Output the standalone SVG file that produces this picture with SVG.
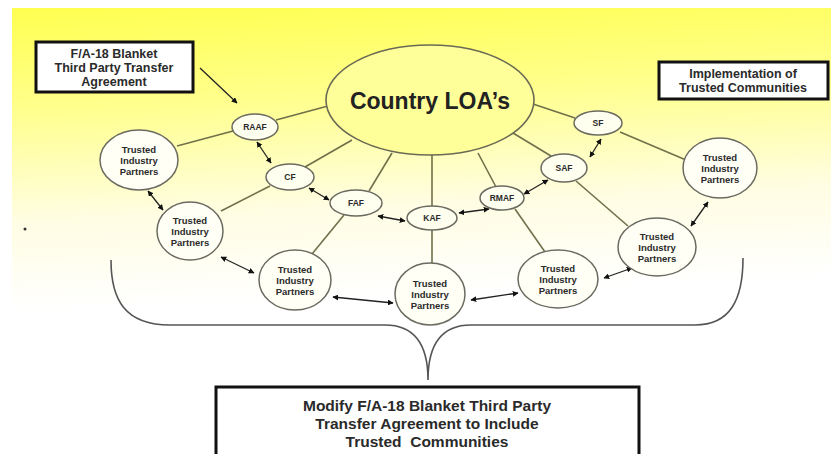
<svg xmlns="http://www.w3.org/2000/svg" width="831" height="454" viewBox="0 0 831 454">
<defs>
<linearGradient id="bg" x1="0" y1="0" x2="0.12" y2="1">
<stop offset="0" stop-color="#ffff50"/>
<stop offset="0.35" stop-color="#ffff90"/>
<stop offset="0.7" stop-color="#fffde2"/>
<stop offset="1" stop-color="#ffffff"/>
</linearGradient>
<marker id="ah" viewBox="0 0 10 10" refX="9" refY="5" markerWidth="4.5" markerHeight="4.5" orient="auto-start-reverse">
<path d="M0,0 L10,5 L0,10 z" fill="#111"/>
</marker>
<style>
.bx{fill:#fff;stroke:#111;stroke-width:3}
.big{fill:#ffff99;stroke:#6a6a55;stroke-width:1.6}
.sm{fill:#fffff0;stroke:#6a6a60;stroke-width:1.5}
.tp{fill:#fffff6;stroke:#6a6a60;stroke-width:1.5}
.ln{stroke:#70704a;stroke-width:1.6;fill:none}
.ar{stroke:#222;stroke-width:1.3;fill:none;marker-start:url(#ah);marker-end:url(#ah)}
.a1{stroke:#222;stroke-width:1.3;fill:none;marker-end:url(#ah)}
text{font-family:"Liberation Sans",Arial,sans-serif;font-weight:bold;fill:#2a2a2a;text-anchor:middle}
.t9{font-size:9.5px}
.t8{font-size:8.5px}
.t13{font-size:12.5px}
.t16{font-size:15.5px}
</style>
</defs>
<rect x="0" y="0" width="831" height="454" fill="#fff"/>
<rect x="12" y="8" width="819" height="300" fill="url(#bg)"/>
<circle cx="25" cy="229" r="1.5" fill="#333"/>

<g id="connectors">
<line class="ln" x1="276" y1="120" x2="328" y2="106"/>
<line class="ln" x1="305" y1="167" x2="352" y2="140"/>
<line class="ln" x1="369" y1="191" x2="392" y2="153"/>
<line class="ln" x1="432" y1="206" x2="432" y2="155"/>
<line class="ln" x1="496" y1="187" x2="478" y2="153"/>
<line class="ln" x1="551" y1="156" x2="513" y2="133"/>
<line class="ln" x1="575" y1="118" x2="533" y2="104"/>
<line class="ln" x1="620" y1="132" x2="686" y2="160"/>
<line class="ln" x1="576" y1="181" x2="628" y2="226"/>
<line class="ln" x1="515" y1="209" x2="545" y2="252"/>
<line class="ln" x1="432" y1="230" x2="432" y2="263"/>
<line class="ln" x1="344" y1="215" x2="312" y2="254"/>
<line class="ln" x1="270" y1="186" x2="221" y2="211"/>
<line class="ln" x1="233" y1="131" x2="177" y2="146"/>
<line class="a1" x1="200" y1="68" x2="237" y2="103"/>
<line class="ar" x1="257" y1="142" x2="271" y2="163"/>
<line class="ar" x1="309" y1="188" x2="329" y2="200"/>
<line class="ar" x1="378" y1="216" x2="405" y2="221"/>
<line class="ar" x1="459" y1="213" x2="489" y2="209"/>
<line class="ar" x1="524" y1="194" x2="548" y2="180"/>
<line class="ar" x1="590" y1="157" x2="601" y2="139"/>
<line class="ar" x1="148" y1="191" x2="163" y2="210"/>
<line class="ar" x1="221" y1="257" x2="254" y2="273"/>
<line class="ar" x1="333" y1="297" x2="393" y2="303"/>
<line class="ar" x1="471" y1="300" x2="518" y2="293"/>
<line class="ar" x1="604" y1="278" x2="632" y2="268"/>
<line class="ar" x1="691" y1="226" x2="708" y2="202"/>
<path d="M111,260 C111,300 125,325 170,325 L385,325 C415,325 428,345 428,380 C428,345 441,325 471,325 L695,325 C730,325 743,300 743,258" fill="none" stroke="#555" stroke-width="1.6"/>
</g>

<g id="box-blanket">
<rect class="bx" x="36" y="42" width="157" height="50" stroke-width="2.5"/>
<text class="t13" x="114" y="58">F/A-18 Blanket</text>
<text class="t13" x="114" y="72">Third Party Transfer</text>
<text class="t13" x="114" y="86">Agreement</text>
</g>
<g id="box-implementation">
<rect class="bx" x="659" y="62" width="169" height="37" stroke-width="2.5"/>
<text class="t13" x="743" y="78">Implementation of</text>
<text class="t13" x="743" y="92">Trusted Communities</text>
</g>
<g id="country">
<ellipse class="big" cx="430" cy="100" rx="104" ry="55"/>
<text x="430" y="109" style="font-size:23px;fill:#222">Country LOA’s</text>
</g>
<g id="raaf"><ellipse class="sm" cx="255" cy="127" rx="23" ry="13"/><text class="t8" x="255" y="130">RAAF</text></g>
<g id="cf"><ellipse class="sm" cx="290" cy="177" rx="24" ry="13"/><text class="t8" x="290" y="180">CF</text></g>
<g id="faf"><ellipse class="sm" cx="356" cy="203" rx="26" ry="13"/><text class="t8" x="356" y="206">FAF</text></g>
<g id="kaf"><ellipse class="sm" cx="432" cy="218" rx="25" ry="12"/><text class="t8" x="432" y="221">KAF</text></g>
<g id="rmaf"><ellipse class="sm" cx="502" cy="198" rx="22" ry="12"/><text class="t8" x="502" y="201">RMAF</text></g>
<g id="saf"><ellipse class="sm" cx="564" cy="168" rx="23" ry="14"/><text class="t8" x="564" y="171">SAF</text></g>
<g id="sf"><ellipse class="sm" cx="598" cy="123" rx="24" ry="12"/><text class="t8" x="598" y="126">SF</text></g>

<g id="tip1"><ellipse class="tp" cx="139" cy="160" rx="39" ry="30"/>
<text class="t9" x="139" y="153">Trusted</text><text class="t9" x="139" y="164">Industry</text><text class="t9" x="139" y="175">Partners</text></g>
<g id="tip2"><ellipse class="tp" cx="190" cy="231" rx="33" ry="29"/>
<text class="t9" x="190" y="224">Trusted</text><text class="t9" x="190" y="235">Industry</text><text class="t9" x="190" y="246">Partners</text></g>
<g id="tip3"><ellipse class="tp" cx="295" cy="280" rx="36" ry="30"/>
<text class="t9" x="295" y="273">Trusted</text><text class="t9" x="295" y="284">Industry</text><text class="t9" x="295" y="295">Partners</text></g>
<g id="tip4"><ellipse class="tp" cx="430" cy="294" rx="35" ry="31"/>
<text class="t9" x="430" y="287">Trusted</text><text class="t9" x="430" y="298">Industry</text><text class="t9" x="430" y="309">Partners</text></g>
<g id="tip5"><ellipse class="tp" cx="558" cy="279" rx="40" ry="29"/>
<text class="t9" x="558" y="272">Trusted</text><text class="t9" x="558" y="283">Industry</text><text class="t9" x="558" y="294">Partners</text></g>
<g id="tip6"><ellipse class="tp" cx="657" cy="247" rx="39" ry="29"/>
<text class="t9" x="657" y="240">Trusted</text><text class="t9" x="657" y="251">Industry</text><text class="t9" x="657" y="262">Partners</text></g>
<g id="tip7"><ellipse class="tp" cx="720" cy="168" rx="37" ry="30"/>
<text class="t9" x="720" y="161">Trusted</text><text class="t9" x="720" y="172">Industry</text><text class="t9" x="720" y="183">Partners</text></g>

<g id="box-modify">
<rect class="bx" x="216" y="387" width="423" height="80"/>
<text class="t16" x="427" y="411">Modify F/A-18 Blanket Third Party</text>
<text class="t16" x="427" y="429">Transfer Agreement to Include</text>
<text class="t16" x="427" y="447" xml:space="preserve">Trusted  Communities</text>
</g>
</svg>
